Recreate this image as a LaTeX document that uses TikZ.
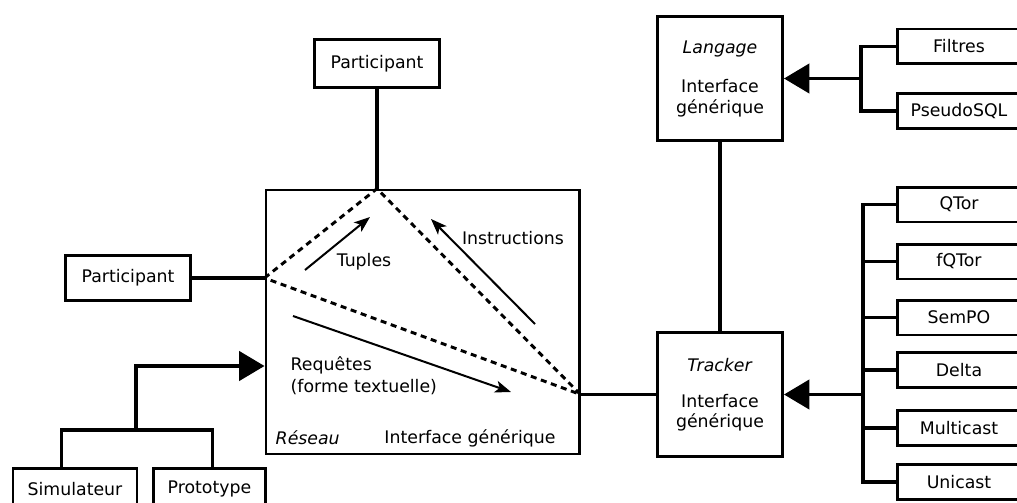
\documentclass[tikz,border=0pt]{standalone}
\usepackage{fontspec}
\setmainfont{DejaVu Sans}
\usetikzlibrary{arrows.meta,positioning,calc}

\tikzset{
  boite/.style={draw, line width=2pt, inner sep=1pt},
  lien/.style={line width=2.3pt},
  herite/.style={line width=2.3pt, -{Triangle[length=19pt, width=22pt]}},
  flux/.style={line width=1.5pt, -{Stealth[length=12pt, width=9pt, inset=3pt]}},
  pointille/.style={line width=2.2pt, dash pattern=on 4.5pt off 3.5pt},
}

\begin{document}
\begin{tikzpicture}[x=0.75pt, y=-0.75pt, font=\fontsize{13}{15.5}\selectfont]
  \clip (0,0) rectangle (1017,503);

  % reseau et participants
  \node[boite, minimum width=235pt, minimum height=198pt] (reseau) at (422.5,322) {};
  \node[boite, minimum width=94pt, minimum height=36pt] (partHaut) at (377,63.5) {Participant};
  \node[boite, minimum width=94pt, minimum height=34pt] (partGauche) at (128,278) {Participant};
  \node[boite, minimum width=93pt, minimum height=31pt] (simu) at (75,489) {Simulateur};
  \node[boite, minimum width=84pt, minimum height=31pt] (proto) at (209.5,489) {Prototype};

  % interfaces generiques
  \node[boite, minimum width=94pt, minimum height=93pt, align=center] (langage) at (720,78.5)
    {\textit{Langage}\\[14pt]Interface\\[0pt]générique};
  \node[boite, minimum width=94pt, minimum height=93pt, align=center] (tracker) at (720,394.5)
    {\textit{Tracker}\\[12pt]Interface\\[-1pt]générique};

  % implementations
  \node[boite, minimum width=92pt, minimum height=26pt] (filtres) at (959,46.5) {Filtres};
  \node[boite, minimum width=92pt, minimum height=26pt] (pseudosql) at (959,111) {PseudoSQL};
  \foreach \id/\txt/\y in {qtor/QTor/204.5, fqtor/fQTor/261.5, sempo/SemPO/317.5,
                           delta/Delta/370, multicast/Multicast/428, unicast/Unicast/482}
    \node[boite, minimum width=92pt, minimum height=26pt] (\id) at (959,\y) {\txt};

  % textes du reseau
  \node[anchor=west] (lReseau) at (271,438) {\textit{Réseau}};
  \node (lInterface) at (470,438) {Interface générique};
  \node (lTuples) at (364,262) {Tuples};
  \node (lInstr) at (513,238) {Instructions};
  \node[anchor=west, align=left] (lRequetes) at (286,376) {Requêtes\\[1pt](forme textuelle)};

  % triangle pointille
  \coordinate (sommet) at (partHaut.south |- reseau.north);
  \coordinate (gauche) at (reseau.west |- partGauche.east);
  \coordinate (droite) at (reseau.east |- tracker.west);
  \draw[lien] (partHaut) -- (sommet);
  \draw[lien] (partGauche) -- (gauche);
  \draw[lien] (droite) -- (tracker);
  \draw[pointille] (gauche) -- (sommet) -- (droite) -- cycle;

  % flux
  \coordinate (t1) at (305,270);
  \coordinate (t2) at (370,217);
  \coordinate (i1) at (535,324);
  \coordinate (i2) at (431,219);
  \coordinate (r1) at (293,316);
  \coordinate (r2) at (511,392);
  \draw[flux] (t1) -- (t2);
  \draw[flux] (i1) -- (i2);
  \draw[flux] (r1) -- (r2);

  % heritages
  \coordinate (bifG) at (136,430);
  \coordinate (entree) at ([yshift=-33pt]reseau.west);
  \draw[lien] ([xshift=-10pt]simu.north) |- (bifG) -| ([xshift=2.5pt]proto.north);
  \draw[herite] (bifG) |- (entree);

  \draw[lien] (langage) -- (tracker);

  \coordinate (busL) at ($(langage.east)+(77,0)$);
  \draw[lien] (filtres.west) -| (busL) |- (pseudosql.west);
  \draw[herite] (busL) -- (langage.east);

  \coordinate (busT) at ($(tracker.east)+(79,0)$);
  \draw[lien] (qtor.west) -| (busT) |- (unicast.west);
  \foreach \id in {fqtor, sempo, delta, multicast}
    \draw[lien] (\id.west) -- (\id.west -| busT);
  \draw[herite] (busT) -- (tracker.east);
\end{tikzpicture}
\end{document}
